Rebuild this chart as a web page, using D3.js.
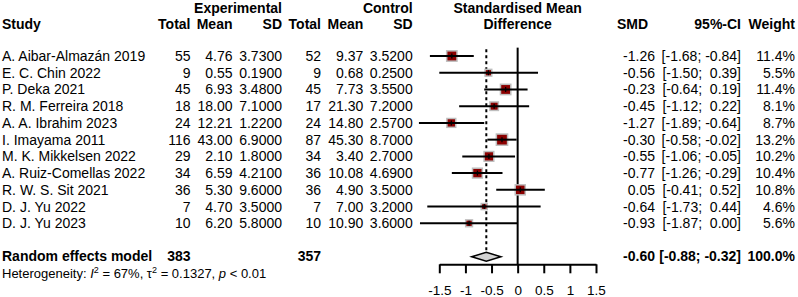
<!DOCTYPE html>
<html>
<head>
<meta charset="utf-8">
<script src="https://cdn.jsdelivr.net/npm/d3@7"></script>
<style>
  body { margin: 0; background: #fff; }
  svg { font-family: "Liberation Sans", Arial, sans-serif; }
  text { white-space: pre; }
</style>
</head>
<body>
<svg id="chart" width="798" height="297"></svg>
<script>
// study data
var studies = ["A. Aibar-Almazán 2019", "E. C. Chin 2022", "P. Deka 2021", "R. M. Ferreira 2018",
    "A. A. Ibrahim 2023", "I. Imayama 2011", "M. K. Mikkelsen 2022", "A. Ruiz-Comellas 2022",
    "R. W. S. Sit 2021", "D. J. Yu 2022", "D. J. Yu 2023"];
var expTotal = [55, 9, 45, 18, 24, 116, 29, 34, 36, 7, 10];
var expMean = [4.76, 0.55, 6.93, 18.00, 12.21, 43.00, 2.10, 6.59, 5.30, 4.70, 6.20];
var expSD = [3.73, 0.19, 3.48, 7.10, 1.22, 6.90, 1.80, 4.21, 9.60, 3.50, 5.80];
var ctrlTotal = [52, 9, 45, 17, 24, 87, 34, 36, 36, 7, 10];
var ctrlMean = [9.37, 0.68, 7.73, 21.30, 14.80, 45.30, 3.40, 10.08, 4.90, 7.00, 10.90];
var ctrlSD = [3.52, 0.25, 3.55, 7.20, 2.57, 8.70, 2.70, 4.69, 3.50, 3.20, 3.60];
var smd = [-1.26, -0.56, -0.23, -0.45, -1.27, -0.30, -0.55, -0.77, 0.05, -0.64, -0.93];
var ciLow = [-1.68, -1.50, -0.64, -1.12, -1.89, -0.58, -1.06, -1.26, -0.41, -1.73, -1.87];
var ciHigh = [-0.84, 0.39, 0.19, 0.22, -0.64, -0.02, -0.05, -0.29, 0.52, 0.44, 0.00];
var weight = [11.4, 5.5, 11.4, 8.1, 8.7, 13.2, 10.2, 10.4, 10.8, 4.6, 5.6];

var pooled = {smd: -0.60, lo: -0.88, hi: -0.32, expN: 383, ctrlN: 357, weight: 100.0};
var axisTicks = [-1.5, -1, -0.5, 0, 0.5, 1, 1.5];

var FS = 14;
var svg = d3.select("#chart");

var x = d3.scaleLinear().domain([-1.5, 1.5]).range([439.3, 596]);
// row index -> vertical centre
var row = d3.scaleLinear().domain([0, 10]).range([56, 223.3]);
var base = function(i) { return row(i) + 5; };
var headBase = [12.5, 28.5];

var col = {expTotal: 190.5, expMean: 232.5, expSD: 282, ctrlTotal: 321, ctrlMean: 363.3,
    ctrlSD: 412.7, smd: 655, smdHead: 648, ci: 741, weight: 795};

function fmt2(v) { return v.toFixed(2); }
function fmtCI(lo, hi) {
    var a = lo.toFixed(2), b = hi.toFixed(2);
    if (lo >= 0) a = "  " + a;
    if (hi >= 0) b = "  " + b; else b = " " + b;
    return "[" + a + ";" + b + "]";
}

function txt(xp, yp, s, anchor, bold, size) {
    return svg.append("text")
        .attr("x", xp).attr("y", yp)
        .attr("text-anchor", anchor || "end")
        .attr("font-size", size || FS)
        .attr("font-weight", bold ? "bold" : "normal")
        .attr("fill", "#000")
        .text(s);
}

// headers
txt(col.expSD, headBase[0], "Experimental", "end", true);
txt(col.ctrlSD, headBase[0], "Control", "end", true);
txt(x(0), headBase[0], "Standardised Mean", "middle", true);
txt(x(0), headBase[1], "Difference", "middle", true);
txt(2, headBase[1], "Study", "start", true);
txt(col.expTotal, headBase[1], "Total", "end", true);
txt(col.expMean, headBase[1], "Mean", "end", true);
txt(col.expSD, headBase[1], "SD", "end", true);
txt(col.ctrlTotal, headBase[1], "Total", "end", true);
txt(col.ctrlMean, headBase[1], "Mean", "end", true);
txt(col.ctrlSD, headBase[1], "SD", "end", true);
txt(col.smdHead, headBase[1], "SMD", "end", true);
txt(col.ci, headBase[1], "95%-CI", "end", true);
txt(col.weight, headBase[1], "Weight", "end", true);

// study rows, text
studies.forEach(function(s, i) {
    txt(2, base(i), s, "start");
    txt(col.expTotal, base(i), String(expTotal[i]));
    txt(col.expMean, base(i), fmt2(expMean[i]));
    txt(col.expSD, base(i), expSD[i].toFixed(4));
    txt(col.ctrlTotal, base(i), String(ctrlTotal[i]));
    txt(col.ctrlMean, base(i), fmt2(ctrlMean[i]));
    txt(col.ctrlSD, base(i), ctrlSD[i].toFixed(4));
    txt(col.smd, base(i), fmt2(smd[i]));
    txt(col.ci, base(i), fmtCI(ciLow[i], ciHigh[i]));
    txt(col.weight, base(i), weight[i].toFixed(1) + "%");
});

// pooled row
var pb = row(12) + 4;
txt(2, pb, "Random effects model", "start", true);
txt(col.expTotal, pb, String(pooled.expN), "end", true);
txt(col.ctrlTotal, pb, String(pooled.ctrlN), "end", true);
txt(col.smd, pb, fmt2(pooled.smd), "end", true);
txt(col.ci, pb, fmtCI(pooled.lo, pooled.hi), "end", true);
txt(col.weight, pb, pooled.weight.toFixed(1) + "%", "end", true);

// heterogeneity
var het = svg.append("text").attr("x", 2).attr("y", 277.5)
    .attr("font-size", 13).attr("fill", "#000");
het.append("tspan").text("Heterogeneity: ");
het.append("tspan").attr("font-style", "italic").text("I");
het.append("tspan").attr("font-size", 9).attr("dy", -4.5).text("2");
het.append("tspan").attr("dy", 4.5).text(" = 67%, τ");
het.append("tspan").attr("font-size", 9).attr("dy", -4.5).text("2");
het.append("tspan").attr("dy", 4.5).text(" = 0.1327, ");
het.append("tspan").attr("font-style", "italic").text("p");
het.append("tspan").text(" < 0.01");

// reference lines
svg.append("line")
    .attr("x1", x(0)).attr("x2", x(0))
    .attr("y1", row(-0.5)).attr("y2", 264.3)
    .attr("stroke", "#000").attr("stroke-width", 2);

svg.append("line")
    .attr("x1", x(pooled.smd)).attr("x2", x(pooled.smd))
    .attr("y1", row(-0.4)).attr("y2", row(12) - 4.5)
    .attr("stroke", "#000").attr("stroke-width", 2)
    .attr("stroke-dasharray", "3,3");

// study marks
var g = svg.append("g");
var idx = d3.range(studies.length);
var side = function(i) { return 3.5 * Math.sqrt(weight[i]) - 1.5; };

g.selectAll("rect.box").data(idx).enter().append("rect")
    .attr("class", "box")
    .attr("x", function(i) { return x(smd[i]) - side(i) / 2; })
    .attr("y", function(i) { return row(i) - side(i) / 2; })
    .attr("width", side).attr("height", side)
    .attr("fill", "#8b0000").attr("stroke", "#bebebe").attr("stroke-width", 1.5);

g.selectAll("line.ci").data(idx).enter().append("line")
    .attr("class", "ci")
    .attr("x1", function(i) { return x(ciLow[i]); })
    .attr("x2", function(i) { return x(ciHigh[i]); })
    .attr("y1", function(i) { return row(i); })
    .attr("y2", function(i) { return row(i); })
    .attr("stroke", "#000").attr("stroke-width", 2);

g.selectAll("line.est").data(idx).enter().append("line")
    .attr("class", "est")
    .attr("x1", function(i) { return x(smd[i]); })
    .attr("x2", function(i) { return x(smd[i]); })
    .attr("y1", function(i) { return row(i) - 2.5; })
    .attr("y2", function(i) { return row(i) + 2.5; })
    .attr("stroke", "#000").attr("stroke-width", 1.3);

// pooled diamond
var dy = row(12);
svg.append("path")
    .attr("d", d3.line()([[x(pooled.lo), dy], [x(pooled.smd), dy - 4.5], [x(pooled.hi), dy], [x(pooled.smd), dy + 4.5]]) + "Z")
    .attr("fill", "#d3d3d3").attr("stroke", "#000").attr("stroke-width", 1.5);

// x axis
var axis = svg.append("g").attr("transform", "translate(0,264.3)")
    .call(d3.axisBottom(x).tickValues(axisTicks).tickSize(9).tickSizeOuter(0)
        .tickPadding(12).tickFormat(function(d) { return String(d); }));
axis.select(".domain").attr("stroke-width", 2);
axis.selectAll(".tick line").attr("stroke-width", 2);
axis.selectAll("text").attr("font-size", 13.5).attr("font-family", "Liberation Sans, Arial, sans-serif");
</script>
</body>
</html>
